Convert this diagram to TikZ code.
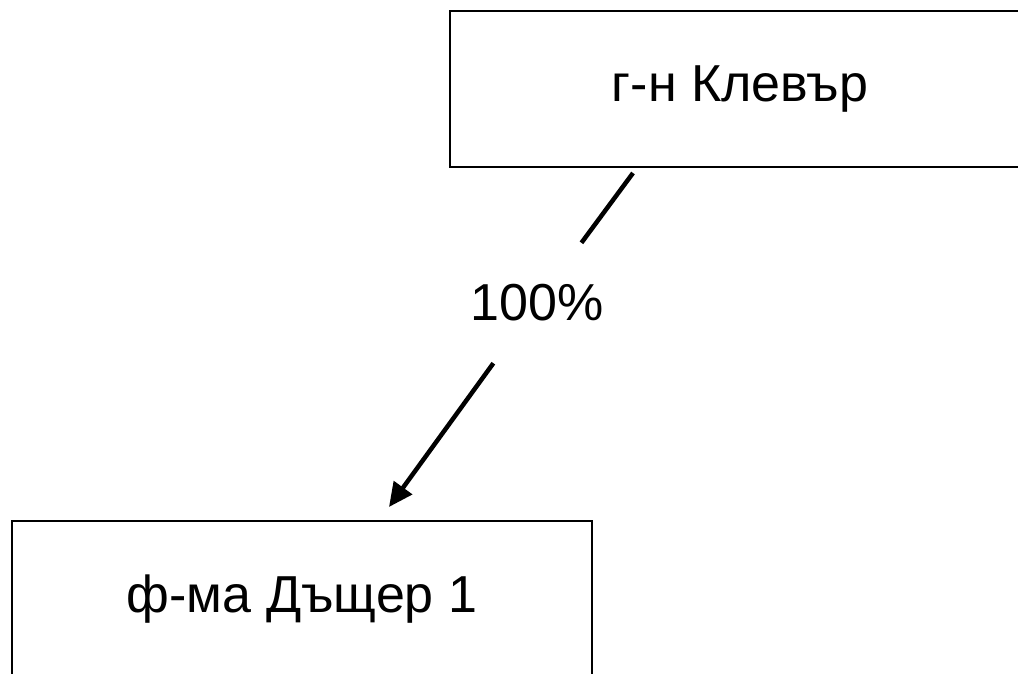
\documentclass[tikz,border=0pt]{standalone}
\usepackage{fontspec}
\setmainfont{Liberation Sans}
\usetikzlibrary{arrows.meta}
\begin{document}
\begin{tikzpicture}[x=1pt,y=-1pt,
  entity/.style={draw=black, line width=2.5pt, rectangle, minimum width=580pt, minimum height=156pt, inner sep=0pt, font=\fontsize{52}{62}\selectfont},
  pct/.style={rectangle, minimum width=140pt, minimum height=120pt, inner sep=0pt, font=\fontsize{52}{62}\selectfont},
  link/.style={line width=4.5pt, -{Triangle[length=24pt,width=22pt]}}]
\useasboundingbox (0,0) rectangle (1018,674);
\node[entity] (boss) at (740,89) {г-н Клевър};
\node[entity] (child) at (302,599) {ф-ма Дъщер 1};
\coordinate (a) at (633,173);
\coordinate (b) at (389,507);
\node[pct] (lbl) at (537,303) {100\%};
\draw[line width=4.5pt] (a) -- (lbl);
\draw[link] (lbl) -- (b);
\end{tikzpicture}
\end{document}
